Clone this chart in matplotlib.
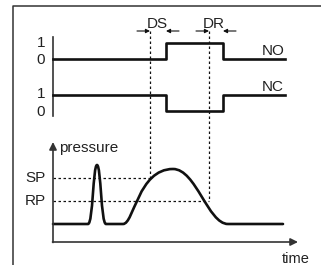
import matplotlib
matplotlib.use('Agg')
import matplotlib.pyplot as plt
from matplotlib.path import Path
from matplotlib.patches import PathPatch

# switching times (time axis in figure pixels) and contact states
switch_times = [53, 166, 223, 285]
no_states = [0, 1, 0, 0]
nc_states = [1, 0, 1, 1]

# pressure levels and thresholds
p_base = 224
p_sp = 178
p_rp = 201
t_ds = 150   # pressure crosses SP
t_dr = 209   # pressure crosses RP

# pressure curve as bezier control points (x, y)
pressure_pts = [
    (53, 224), (88, 224),
    (93, 224), (93, 165), (97, 165),
    (101, 165), (101, 224), (106, 224),
    (123, 224),
    (134, 224), (138, 169), (173, 169),
    (196, 169), (208, 224), (228, 224),
    (283, 224),
]
pressure_codes = [Path.MOVETO, Path.LINETO,
                  Path.CURVE4, Path.CURVE4, Path.CURVE4,
                  Path.CURVE4, Path.CURVE4, Path.CURVE4,
                  Path.LINETO,
                  Path.CURVE4, Path.CURVE4, Path.CURVE4,
                  Path.CURVE4, Path.CURVE4, Path.CURVE4,
                  Path.LINETO]

ink = '#111111'
axc = '#333333'
txt = '#222222'
plt.rcParams['font.family'] = ['Liberation Sans', 'DejaVu Sans']

fig = plt.figure(figsize=(3.21, 2.65), dpi=100)
ax = fig.add_axes([0, 0, 1, 1])
ax.set_xlim(0, 321)
ax.set_ylim(265, 0)
ax.axis('off')

# frame
ax.plot([13, 13, 321], [265, 6, 6], color=axc, lw=1.1, solid_capstyle='butt')

# signal rows
ax.plot([53, 53], [37, 116], color=axc, lw=1.2)
no_y = [59 - 16.5 * s for s in no_states]
nc_y = [110.5 - 15.5 * s for s in nc_states]
ax.step(switch_times, no_y, where='post', color=ink, lw=1.9)
ax.step(switch_times, nc_y, where='post', color=ink, lw=1.9)

for y, s in [(43, '1'), (60, '0'), (94, '1'), (112, '0')]:
    ax.text(41, y, s, ha='center', va='center', fontsize=11, color=txt)
ax.text(273, 51, 'NO', ha='center', va='center', fontsize=11, color=txt)
ax.text(273, 87, 'NC', ha='center', va='center', fontsize=11, color=txt)

# delay markers
dot = dict(color=ink, lw=0.9, ls=(0, (2, 2)))
ax.plot([t_ds, t_ds], [31, p_sp], **dot)
ax.plot([t_dr, t_dr], [31, p_rp], **dot)
ax.plot([53, t_ds], [p_sp, p_sp], **dot)
ax.plot([53, t_dr], [p_rp, p_rp], **dot)

arr = dict(arrowstyle='-|>', color=ink, lw=0.8, mutation_scale=6, shrinkA=0, shrinkB=0)
ax.annotate('', xy=(t_ds, 31), xytext=(137, 31), arrowprops=arr)
ax.annotate('', xy=(switch_times[1], 31), xytext=(179, 31), arrowprops=arr)
ax.annotate('', xy=(t_dr, 31), xytext=(196, 31), arrowprops=arr)
ax.annotate('', xy=(switch_times[2], 31), xytext=(236, 31), arrowprops=arr)
ax.text(157, 24, 'DS', ha='center', va='center', fontsize=11, color=txt)
ax.text(214, 24, 'DR', ha='center', va='center', fontsize=11, color=txt)

# pressure axes
axarr = dict(arrowstyle='-|>', color=axc, lw=1.2, mutation_scale=11, shrinkA=0, shrinkB=0)
ax.annotate('', xy=(53, 142), xytext=(53, 242.5), arrowprops=axarr)
ax.annotate('', xy=(298, 242), xytext=(52.5, 242), arrowprops=axarr)
ax.text(59, 152, 'pressure', ha='left', va='baseline', fontsize=11, color=txt)
ax.text(296, 263, 'time', ha='center', va='baseline', fontsize=10.5, color=txt)
ax.text(35, p_sp, 'SP', ha='center', va='center', fontsize=11, color=txt)
ax.text(35, p_rp, 'RP', ha='center', va='center', fontsize=11, color=txt)

# pressure curve
ax.add_patch(PathPatch(Path(pressure_pts, pressure_codes), fill=False,
                       edgecolor=ink, lw=1.9, capstyle='round', joinstyle='round'))

fig.savefig('out.png', dpi=100)
